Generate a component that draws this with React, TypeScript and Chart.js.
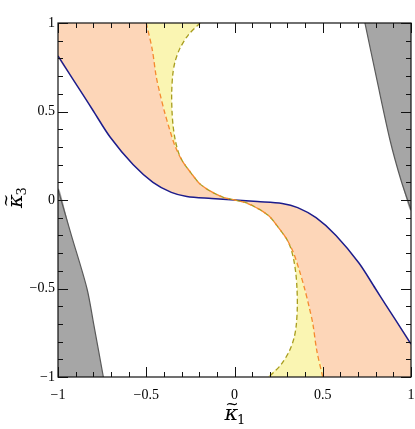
import React, { useEffect, useRef } from 'react';
import { Chart, registerables } from 'chart.js';

Chart.register(...registerables);

// ---- tick values / labels ----
const majorTicks = [-1, -0.5, 0, 0.5, 1];
const majorLabels = ['−1', '−0.5', '0', '0.5', '1'];
const minorTicks = [-0.9, -0.8, -0.7, -0.6, -0.4, -0.3, -0.2, -0.1, 0.1, 0.2, 0.3, 0.4, 0.6, 0.7, 0.8, 0.9];

// ---- blue solid boundary ----
const blueLeftX = [-1, -0.915, -0.858, -0.798, -0.705, -0.575, -0.462, -0.358, -0.27, -0.13, 0];
const blueLeftY = [0.814, 0.682, 0.594, 0.5, 0.356, 0.2, 0.1, 0.043, 0.02, 0.009, 0];
const blueRightX = [0, 0.13, 0.27, 0.358, 0.462, 0.575, 0.705, 0.798, 0.858, 0.915, 1];
const blueRightY = [0, -0.009, -0.02, -0.043, -0.1, -0.2, -0.356, -0.5, -0.594, -0.682, -0.814];

// ---- orange dashed boundary ----
const orangeUpX = [-0.5, -0.466, -0.444, -0.422, -0.397, -0.368, -0.335, -0.295, -0.245, -0.2, -0.158, -0.11, -0.063, 0];
const orangeUpY = [1, 0.85, 0.7, 0.6, 0.5, 0.4, 0.3, 0.22, 0.151, 0.095, 0.063, 0.036, 0.015, 0];
const orangeDownX = [0, 0.063, 0.11, 0.158, 0.2, 0.245, 0.295, 0.335, 0.368, 0.397, 0.422, 0.444, 0.466, 0.5];
const orangeDownY = [0, -0.015, -0.036, -0.063, -0.095, -0.151, -0.22, -0.3, -0.4, -0.5, -0.6, -0.7, -0.85, -1];

// ---- olive dashed boundary ----
const oliveUpX = [-0.195, -0.262, -0.309, -0.337, -0.35, -0.356, -0.354, -0.348, -0.336, -0.318, -0.295, -0.245, -0.2, -0.158, -0.11, -0.063, 0];
const oliveUpY = [1, 0.932, 0.857, 0.781, 0.706, 0.6, 0.5, 0.42, 0.34, 0.27, 0.22, 0.151, 0.095, 0.063, 0.036, 0.015, 0];
const oliveDownX = [0, 0.063, 0.11, 0.158, 0.2, 0.245, 0.295, 0.318, 0.336, 0.348, 0.354, 0.356, 0.35, 0.337, 0.309, 0.262, 0.195];
const oliveDownY = [0, -0.015, -0.036, -0.063, -0.095, -0.151, -0.22, -0.27, -0.34, -0.42, -0.5, -0.6, -0.706, -0.781, -0.857, -0.932, -1];

// ---- gray excluded regions ----
const grayRightX = [0.739, 0.807, 0.881, 0.943, 1];
const grayRightY = [1, 0.678, 0.339, 0.113, -0.055];
const grayLeftX = [-0.743, -0.798, -0.836, -0.922, -1];
const grayLeftY = [-1, -0.7, -0.5, -0.207, 0.06];

type P = { x: number; y: number };
const pts = (xs: number[], ys: number[]): P[] => xs.map((x, i) => ({ x, y: ys[i] }));
const rev = (a: P[]) => a.slice().reverse();

const PEACH = '#fdd6b8';
const YELLOW = '#faf5b2';
const GRAYFILL = '#a6a6a6';
const GRAYLINE = '#5a5a5a';
const BLUE = '#1c1c8c';
const ORANGE = '#f58a2e';
const OLIVE = '#a89d1e';

const framePlugin = {
  id: 'frameTicks',
  afterDatasetsDraw(chart: any) {
    const { ctx, chartArea } = chart;
    const { left, right, top, bottom } = chartArea;
    const xs = chart.scales.x;
    const ys = chart.scales.y;
    ctx.save();
    ctx.strokeStyle = '#111';
    ctx.lineWidth = 1;
    ctx.beginPath();
    const tick = (v: number, len: number) => {
      const px = Math.round(xs.getPixelForValue(v)) + 0.5;
      ctx.moveTo(px, bottom);
      ctx.lineTo(px, bottom - len);
      ctx.moveTo(px, top);
      ctx.lineTo(px, top + len);
      const py = Math.round(ys.getPixelForValue(v)) + 0.5;
      ctx.moveTo(left, py);
      ctx.lineTo(left + len, py);
      ctx.moveTo(right, py);
      ctx.lineTo(right - len, py);
    };
    majorTicks.forEach((v) => tick(v, 10));
    minorTicks.forEach((v) => tick(v, 5));
    ctx.stroke();
    ctx.lineWidth = 1.2;
    ctx.strokeRect(left, top, right - left, bottom - top);
    ctx.restore();
  },
  afterDraw(chart: any) {
    const { ctx, chartArea } = chart;
    const drawKappa = (sub: string) => {
      ctx.fillStyle = '#000';
      ctx.textAlign = 'center';
      ctx.textBaseline = 'alphabetic';
      ctx.font = 'italic 21px "DejaVu Serif"';
      ctx.fillText('κ', 0, 5);
      ctx.font = '16px "DejaVu Serif"';
      ctx.textBaseline = 'middle';
      ctx.fillText('~', 0.5, -10);
      ctx.textAlign = 'left';
      ctx.textBaseline = 'alphabetic';
      ctx.font = '13px "DejaVu Serif"';
      ctx.fillText(sub, 5.5, 9);
    };
    const cx = (chartArea.left + chartArea.right) / 2;
    ctx.save();
    ctx.translate(cx - 3, 415);
    drawKappa('1');
    ctx.restore();
    ctx.save();
    ctx.translate(17, 201);
    ctx.rotate(-Math.PI / 2);
    drawKappa('3');
    ctx.restore();
  },
};

export default function App() {
  const ref = useRef<HTMLCanvasElement | null>(null);
  useEffect(() => {
    if (!ref.current) return;
    const poly = (data: P[], color: string, order: number) => ({
      type: 'line',
      data,
      showLine: true,
      fill: 'shape',
      backgroundColor: color,
      borderWidth: 0,
      borderColor: 'rgba(0,0,0,0)',
      pointRadius: 0,
      tension: 0.3,
      order,
    });
    const line = (data: P[], color: string, width: number, dash: number[], order: number) => ({
      type: 'line',
      data,
      showLine: true,
      fill: false,
      borderColor: color,
      borderWidth: width,
      borderDash: dash,
      pointRadius: 0,
      tension: 0.3,
      order,
    });
    const blueAll = pts(blueLeftX, blueLeftY).concat(pts(blueRightX, blueRightY).slice(1));
    const orangeAll = pts(orangeUpX, orangeUpY).concat(pts(orangeDownX, orangeDownY).slice(1));
    const oliveAll = pts(oliveUpX, oliveUpY).concat(pts(oliveDownX, oliveDownY).slice(1));

    const datasets: any[] = [
      poly(pts(grayRightX, grayRightY).concat([{ x: 1, y: 1 }]), GRAYFILL, 20),
      poly(pts(grayLeftX, grayLeftY).concat([{ x: -1, y: -1 }]), GRAYFILL, 20),
      poly([{ x: -1, y: 1 }].concat(pts(blueLeftX, blueLeftY), rev(pts(orangeUpX, orangeUpY))), PEACH, 19),
      poly([{ x: 1, y: -1 }].concat(rev(pts(blueRightX, blueRightY)), pts(orangeDownX, orangeDownY)), PEACH, 19),
      poly(pts(orangeUpX, orangeUpY).concat(rev(pts(oliveUpX, oliveUpY))), YELLOW, 18),
      poly(pts(orangeDownX, orangeDownY).concat(rev(pts(oliveDownX, oliveDownY))), YELLOW, 18),
      line(pts(grayRightX, grayRightY), GRAYLINE, 1.2, [], 10),
      line(pts(grayLeftX, grayLeftY), GRAYLINE, 1.2, [], 10),
      line(blueAll, BLUE, 1.5, [], 3),
      line(oliveAll, OLIVE, 1.3, [5, 3], 2),
      line(orangeAll, ORANGE, 1.3, [5, 3], 1),
    ];

    const tickFont = { family: "'Liberation Serif', 'Times New Roman', serif", size: 14 };
    const chart = new Chart(ref.current, {
      type: 'scatter',
      data: { datasets },
      options: {
        animation: false,
        responsive: false,
        events: [],
        layout: { padding: { top: 23, right: 4, left: 0, bottom: 0 } },
        plugins: { legend: { display: false }, tooltip: { enabled: false } },
        scales: {
          x: {
            type: 'linear',
            min: -1,
            max: 1,
            grid: { display: false, drawTicks: false },
            border: { display: false },
            afterBuildTicks: (s: any) => {
              s.ticks = majorTicks.map((v) => ({ value: v }));
            },
            afterFit: (s: any) => {
              s.height = 52;
              s.paddingLeft = 0;
              s.paddingRight = 0;
              s.paddingTop = 0;
              s.paddingBottom = 0;
            },
            ticks: {
              padding: 10,
              color: '#000',
              font: tickFont,
              maxRotation: 0,
              autoSkip: false,
              callback: (v: any) => majorLabels[majorTicks.indexOf(Number(v))] ?? '',
            },
          },
          y: {
            type: 'linear',
            min: -1,
            max: 1,
            grid: { display: false, drawTicks: false },
            border: { display: false },
            afterBuildTicks: (s: any) => {
              s.ticks = majorTicks.map((v) => ({ value: v }));
            },
            afterFit: (s: any) => {
              s.width = 58;
              s.paddingLeft = 0;
              s.paddingRight = 0;
              s.paddingTop = 0;
              s.paddingBottom = 0;
            },
            ticks: {
              padding: 3,
              color: '#000',
              font: tickFont,
              autoSkip: false,
              callback: (v: any) => majorLabels[majorTicks.indexOf(Number(v))] ?? '',
            },
          },
        },
      } as any,
      plugins: [framePlugin],
    });
    return () => chart.destroy();
  }, []);

  return (
    <div style={{ position: 'absolute', left: 0, top: 0, width: 415, height: 429, background: '#fff' }}>
      <canvas ref={ref} width={415} height={429} style={{ display: 'block' }} />
    </div>
  );
}
